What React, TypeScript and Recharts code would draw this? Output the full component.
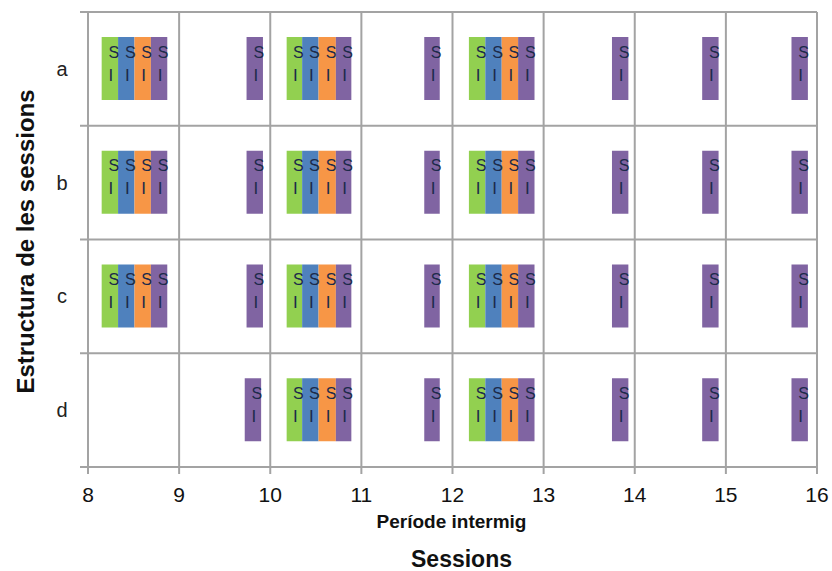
import React from 'react';
import {
  BarChart,
  Bar,
  XAxis,
  YAxis,
  CartesianGrid,
  ReferenceLine,
  LabelList,
} from 'recharts';

type Range = [number, number] | null;

const rows = ['a', 'b', 'c', 'd'];

const greenBars: Range[][] = [
  [[8.15, 8.33], [10.18, 10.35], [12.18, 12.36]],
  [[8.15, 8.33], [10.18, 10.35], [12.18, 12.36]],
  [[8.15, 8.33], [10.18, 10.35], [12.18, 12.36]],
  [null, [10.18, 10.35], [12.18, 12.36]],
];

const blueBars: Range[][] = [
  [[8.33, 8.51], [10.35, 10.53], [12.36, 12.54]],
  [[8.33, 8.51], [10.35, 10.53], [12.36, 12.54]],
  [[8.33, 8.51], [10.35, 10.53], [12.36, 12.54]],
  [null, [10.35, 10.53], [12.36, 12.54]],
];

const orangeBars: Range[][] = [
  [[8.51, 8.69], [10.53, 10.72], [12.54, 12.72]],
  [[8.51, 8.69], [10.53, 10.72], [12.54, 12.72]],
  [[8.51, 8.69], [10.53, 10.72], [12.54, 12.72]],
  [null, [10.53, 10.72], [12.54, 12.72]],
];

const purpleBars: Range[][] = [
  [[8.69, 8.87], [9.74, 9.92], [10.72, 10.89], [11.69, 11.86], [12.72, 12.9], [13.75, 13.93], [14.74, 14.92], [15.72, 15.9]],
  [[8.69, 8.87], [9.74, 9.92], [10.72, 10.89], [11.69, 11.86], [12.72, 12.9], [13.75, 13.93], [14.74, 14.92], [15.72, 15.9]],
  [[8.69, 8.87], [9.74, 9.92], [10.72, 10.89], [11.69, 11.86], [12.72, 12.9], [13.75, 13.93], [14.74, 14.92], [15.72, 15.9]],
  [null, [9.72, 9.9], [10.72, 10.89], [11.69, 11.86], [12.72, 12.9], [13.75, 13.93], [14.74, 14.92], [15.72, 15.9]],
];

const xTicks = [8, 9, 10, 11, 12, 13, 14, 15, 16];

const seriesDefs = [
  { prefix: 'g', color: '#92d050', values: greenBars },
  { prefix: 'b', color: '#4f81bd', values: blueBars },
  { prefix: 'o', color: '#f79646', values: orangeBars },
  { prefix: 'p', color: '#8064a2', values: purpleBars },
];

const data = rows.map((row, i) => {
  const o: Record<string, any> = { row };
  seriesDefs.forEach((s) => {
    s.values[i].forEach((r, j) => {
      o[`${s.prefix}${j}`] = r;
    });
  });
  return o;
});

const barKeys: { key: string; color: string }[] = [];
seriesDefs.forEach((s) => {
  s.values[0].forEach((_, j) => barKeys.push({ key: `${s.prefix}${j}`, color: s.color }));
});

const FONT = '"Liberation Sans", Arial, sans-serif';
const GRID = '#a3a3a3';
const BAR_SIZE = 63;

const SILabel = (props: any) => {
  const { x, y, width, value } = props;
  if (value == null || !width || width < 1) return null;
  const cx = Number(x) + Number(width) / 2;
  const top = Number(y);
  return (
    <g>
      <text x={cx + 4} y={top + 15} textAnchor="middle" dominantBaseline="central" fontFamily={FONT} fontSize={16} fill="#1c2a4a">
        S
      </text>
      <text x={cx + 1} y={top + 38} textAnchor="middle" dominantBaseline="central" fontFamily={FONT} fontSize={17} fill="#1c2a4a">
        I
      </text>
    </g>
  );
};

const YTick = (props: any) => {
  const { y, payload, index } = props;
  const off = payload && typeof payload.offset === 'number' ? payload.offset : 0;
  const axisX = 88;
  return (
    <g>
      <text x={62} y={y} textAnchor="middle" dominantBaseline="central" fontFamily={FONT} fontSize={20} fill="#222">
        {payload.value}
      </text>
      {off > 0 && <line x1={axisX - 8} x2={axisX} y1={y - off} y2={y - off} stroke={GRID} strokeWidth={2} />}
      {off > 0 && index === rows.length - 1 && (
        <line x1={axisX - 8} x2={axisX} y1={y + off} y2={y + off} stroke={GRID} strokeWidth={2} />
      )}
    </g>
  );
};

const XLabels = (props: any) => {
  const vb = props.viewBox || { x: 88, y: 467, width: 729, height: 104 };
  const cx = vb.x + vb.width / 2;
  return (
    <g>
      <text x={cx - 1} y={vb.y + 61} textAnchor="middle" fontFamily={FONT} fontWeight="bold" fontSize={19} fill="#111">
        Període intermig
      </text>
      <text x={cx + 9} y={vb.y + 100} textAnchor="middle" fontFamily={FONT} fontWeight="bold" fontSize={23} fill="#111">
        Sessions
      </text>
    </g>
  );
};

const YTitle = (props: any) => {
  const vb = props.viewBox || { x: 0, y: 12, width: 88, height: 455 };
  const cy = vb.y + vb.height / 2 + 2;
  return (
    <text
      x={25}
      y={cy}
      transform={`rotate(-90, 25, ${cy})`}
      textAnchor="middle"
      dominantBaseline="central"
      fontFamily={FONT}
      fontWeight="bold"
      fontSize={24}
      fill="#111"
    >
      Estructura de les sessions
    </text>
  );
};

export default function App() {
  return (
    <div style={{ position: 'absolute', left: 0, top: 0, width: 832, height: 571, background: '#fff' }}>
      <BarChart
        width={832}
        height={571}
        data={data}
        layout="vertical"
        margin={{ top: 12, right: 15, bottom: 0, left: 0 }}
        barGap={-BAR_SIZE}
        barCategoryGap={0}
      >
        <CartesianGrid horizontal={false} vertical stroke={GRID} strokeWidth={2} />
        <XAxis
          type="number"
          domain={[8, 16]}
          ticks={xTicks}
          interval={0}
          height={104}
          axisLine={{ stroke: GRID, strokeWidth: 2 }}
          tickLine={{ stroke: GRID, strokeWidth: 2 }}
          tickSize={7}
          tickMargin={13}
          tick={{ fontFamily: FONT, fontSize: 21, fill: '#111' }}
          label={<XLabels />}
        />
        <YAxis
          type="category"
          dataKey="row"
          width={88}
          axisLine={false}
          tickLine={false}
          tick={<YTick />}
          label={<YTitle />}
        />
        {rows.map((r) => (
          <ReferenceLine key={`rl-${r}`} y={r} position="start" stroke={GRID} strokeWidth={2} ifOverflow="visible" />
        ))}
        <ReferenceLine y={rows[rows.length - 1]} position="end" stroke={GRID} strokeWidth={2} ifOverflow="visible" />
        {barKeys.map((b) => (
          <Bar key={b.key} dataKey={b.key} fill={b.color} barSize={BAR_SIZE} isAnimationActive={false}>
            <LabelList dataKey={b.key} content={<SILabel />} />
          </Bar>
        ))}
      </BarChart>
    </div>
  );
}
